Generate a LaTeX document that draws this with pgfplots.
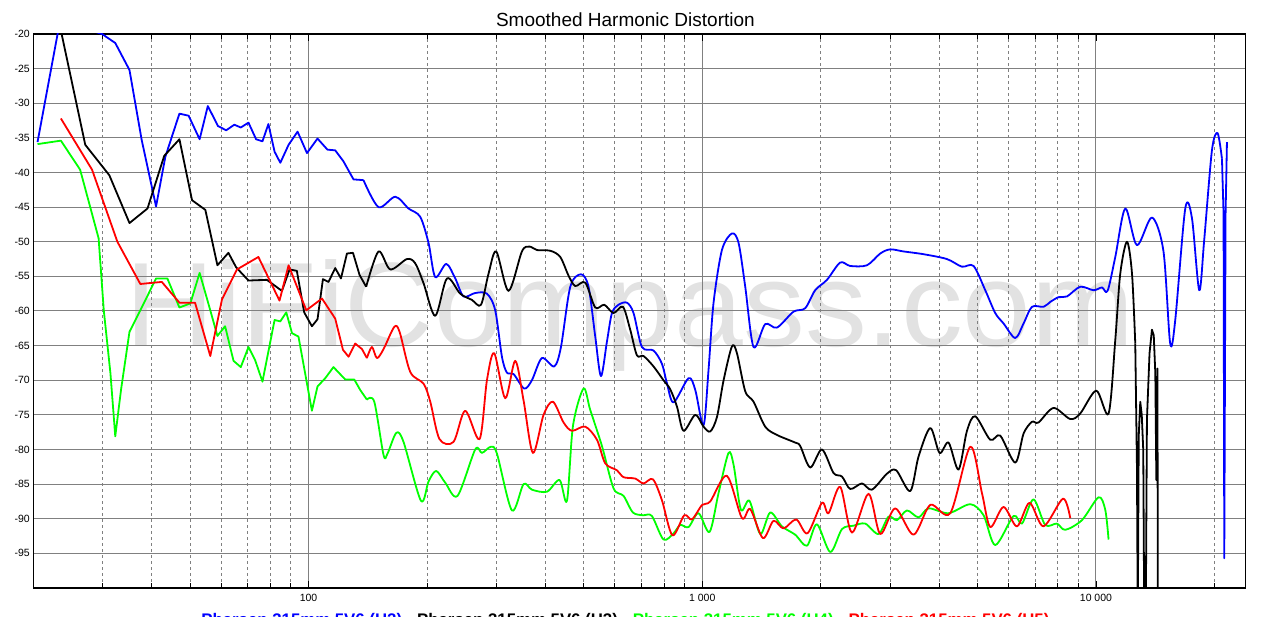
\documentclass[border=0pt]{standalone}
\usepackage{fontspec}
\setmainfont{Liberation Sans}
\usepackage{pgfplots}
\pgfplotsset{compat=1.18}
\definecolor{hblue}{RGB}{0,0,255}
\definecolor{hgreen}{RGB}{0,255,0}
\definecolor{hred}{RGB}{255,0,0}
\definecolor{wm}{RGB}{226,226,226}
\begin{document}
\begin{tikzpicture}[x=1pt,y=1pt]
\node[anchor=base west, text=wm, font=\fontsize{120}{120}\selectfont, inner sep=0pt, xscale=1.03] at (125,270) {HiFiCompass.com};
\begin{axis}[
  at={(33.3pt,29pt)}, anchor=south west,
  scale only axis, width=1212.4pt, height=554pt,
  xmode=log, xmin=20, xmax=24000, ymin=-100, ymax=-20,
  xtick={100,1000,10000}, xticklabels={100,1 000,10 000},
  minor xtick={30,40,50,60,70,80,90,200,300,400,500,600,700,800,900,2000,3000,4000,5000,6000,7000,8000,9000,20000},
  ytick={-20,-25,-30,-35,-40,-45,-50,-55,-60,-65,-70,-75,-80,-85,-90,-95,-100},
  yticklabels={-20,-25,-30,-35,-40,-45,-50,-55,-60,-65,-70,-75,-80,-85,-90,-95,},
  xmajorgrids, xminorgrids, ymajorgrids,
  major grid style={draw=gray, line width=1pt},
  minor grid style={draw=gray, line width=0.8pt, dash pattern=on 3pt off 3pt},
  tick align=inside, major tick length=7pt, minor tick length=5pt,
  xtick style={black, line width=0.8pt},
  ytick style={draw=none},
  axis line style={line width=1.4pt},
  ticklabel style={font=\fontsize{10.5}{12}\selectfont},
  xticklabel style={yshift=-3pt},
  title={Smoothed Harmonic Distortion},
  title style={at={(axis description cs:0.4884,1)}, anchor=base, yshift=1.3pt, font=\fontsize{19}{22}\selectfont},
  legend style={at={(axis description cs:0.4884,0)}, anchor=north, yshift=-25pt, draw=none, fill=none, inner sep=0pt, font=\fontsize{16.8}{19}\selectfont\bfseries, nodes={inner sep=0pt}, /tikz/every even column/.append style={column sep=15pt}},
  legend columns=4,
  legend image code/.code={},
  no markers,
  every axis plot/.append style={line width=1.8pt, line join=round},
  sm/.style={smooth, tension=0.5, forget plot},
]
% ---------- H2 (blue)
\addplot[hblue] coordinates {
(20.5,-35.6) (23.4,-18) (29.9,-20.0) (32.3,-21.3) (35.1,-25.2) (37.7,-35.3) (41.0,-44.9) (43.3,-37.7)
(47.0,-31.5) (49.6,-31.8) (52.9,-35.2) (55.5,-30.4) (58.9,-33.3) (61.8,-33.9) (64.8,-33.1) (67.3,-33.5)
(70.4,-32.8) (73.6,-35.2) (76.4,-35.5) (79.1,-33.0) (82.0,-37.0) (84.8,-38.6) (89.0,-36.0) (93.8,-34.1)
(99.1,-37.2) (105.4,-35.1) (111.7,-36.7) (116.9,-36.8) (122.7,-38.4) (130.1,-41.0) (137.9,-41.1)
};
\addlegendentry{\textcolor{hblue}{Pharsen 315mm 5V6 (H2)}}
\addplot[hblue, sm] coordinates {
(137.9,-41.1)
(150.6,-45.0) (166.1,-43.5) (179.5,-45.2) (192.2,-46.4) (201.8,-50.2) (209.8,-55.1) (223.8,-53.2)
(235.9,-55.3) (247.6,-57.9) (265.1,-57.4) (283.9,-57.5) (298.0,-59.9) (309.9,-66.6) (319.1,-68.9)
(331.7,-69.1) (353.1,-71.2) (369.3,-70.0) (391.5,-66.8) (420.9,-68.0) (437.7,-65.2) (462.2,-56.5)
(491.9,-54.7) (514.3,-56.5) (534.9,-63.7) (553.0,-69.4) (572.8,-64.4) (589.8,-60.3) (612.9,-59.1)
(643.8,-58.8) (669.2,-60.3) (702.9,-65.2) (752.0,-65.7) (789.8,-67.6) (813.3,-70.4) (845.5,-73.2)
(923.1,-69.7) (960.0,-71.4) (1007.6,-76.5) (1037.5,-68.5) (1068,-58.9) (1122,-51.2) (1190,-48.8)
(1237,-50.2) (1286,-56.5) (1350,-65.2) (1445,-61.9) (1548,-62.4) (1705,-60.1) (1826,-59.6) (1936,-57.0)
(2074,-55.5) (2241,-53.0) (2376,-53.5) (2620,-53.4) (2832,-51.7) (3002,-51.1) (3245,-51.4) (3649,-51.8)
(4183,-52.5) (4566,-53.6) (4888,-53.5) (5234,-57.0) (5549,-60.3) (5825,-61.8) (6237,-63.9) (6549,-61.8)
(6877,-59.4) (7359,-59.4) (7653,-58.7) (8035,-58.0) (8440,-57.9) (9122,-56.5) (9861,-57.0) (10357,-56.6)
(10702,-57.1) (11196,-52.2) (11870,-45.2) (12708,-50.5) (13874,-46.5) (14843,-51.4) (15437,-64.7)
(15901,-61.3) (16859,-45.2) (17532,-46.6) (18295,-57.0) (18838,-49.7) (19706,-36.8) (20364,-34.3)
(20893,-38.0)
};
\addplot[hblue, forget plot] coordinates {
(20893,-38.0) (21091,-46.0) (21178,-95.7) (21340,-46.0) (21513,-35.6)
};
% ---------- H3 (black)
\addplot[black] coordinates {
(22.8,-17) (23.6,-20) (27.1,-36.0) (31.2,-40.4) (35.1,-47.3) (39.0,-45.2) (43.0,-37.6) (47.0,-35.2)
(50.6,-44.0) (54.7,-45.4) (58.7,-53.4) (62.6,-51.6) (65.5,-53.7) (70.4,-55.6) (78.4,-55.5) (85.6,-57.1)
(89.5,-54.0) (93.4,-54.2) (97.5,-60.2) (102.0,-62.2) (105.4,-61.2) (108.8,-55.4) (112.4,-55.8)
(116.9,-53.8) (120.9,-55.3) (125.2,-51.7) (129.7,-51.6) (134.8,-54.8) (140.1,-56.5)
};
\addlegendentry{\textcolor{black}{Pharsen 315mm 5V6 (H3)}}
\addplot[black, sm] coordinates {
(140.1,-56.5) (150.6,-51.4)
(161.3,-54.0) (177.8,-52.5) (186.6,-53.1) (196.0,-56.0) (209.8,-60.7) (224.7,-55.3) (242.8,-57.5)
(260.0,-58.4) (274.2,-59.1) (286.6,-54.6) (299.8,-51.4) (322.1,-57.1) (348.4,-51.4) (364.2,-50.7)
(380.3,-51.2) (411.2,-51.3) (435.9,-52.2) (457.6,-54.9) (475.9,-56.4) (504.5,-55.9) (534.9,-59.5)
(563.8,-59.1) (595.3,-60.3) (628.9,-59.4) (656.3,-62.7) (682.5,-66.4) (709.3,-66.5) (752.0,-68.0)
(797.3,-70.0) (829.2,-71.3) (862.6,-73.8) (896.3,-77.3) (960.0,-75.0) (1007.6,-76.7) (1048,-77.4)
(1090,-75.3) (1133,-70.0) (1190,-65.1) (1225,-66.1) (1286,-71.6) (1350,-73.1) (1445,-76.7) (1548,-77.9)
(1722,-79.0) (1774,-79.5) (1881,-82.6) (2014,-80.0) (2155,-83.4) (2264,-83.9) (2376,-85.7) (2545,-84.9)
(2698,-85.8) (2945,-83.5) (3110,-83.0) (3375,-86.0) (3544,-81.0) (3795,-76.9) (4007,-80.5) (4223,-79.0)
(4477,-82.9) (4703,-77.3) (4937,-75.2) (5389,-78.6) (5714,-78.0) (6237,-81.9) (6549,-77.7) (6877,-76.0)
(7146,-76.1) (7803,-74.0) (8603,-75.6) (9122,-74.8) (10018,-71.5) (10765,-74.8) (11196,-64.2)
(11527,-54.6) (11989,-50.0) (12346,-54.6) (12584,-64.7)
};
\addplot[black, forget plot] coordinates {
(12584,-64.7) (12708,-82.5) (12769,-105) (12843,-78)
(12957,-73.1) (13071,-75) (13186,-80.1) (13263,-105) (13380,-105) (13473,-75.7) (13679,-66.1)
(13874,-62.7) (14021,-63.5) (14150,-69.0) (14234,-84.4) (14330,-68.3) (14360,-105)
};
% ---------- H4 (green)
\addplot[hgreen] coordinates {
(20.5,-35.9) (23.5,-35.4) (26.3,-39.6) (29.3,-49.5) (30.2,-59.9) (31.4,-69.0) (32.3,-78.1) (33.4,-71.4)
(35.1,-63.0) (37.4,-59.9) (41.0,-55.3) (43.8,-55.3) (47.0,-59.5) (50.1,-58.9) (52.9,-54.5) (56.3,-59.9)
(58.7,-63.6) (61.4,-62.2) (64.5,-67.2) (67.3,-68.1) (70.4,-65.2) (73.2,-67.1) (76.4,-70.2) (82.0,-61.3)
(84.8,-61.5) (87.8,-60.2) (90.8,-63.2) (94.3,-63.7) (102.0,-74.4) (105.4,-70.9) (110.3,-69.7)
(115.7,-68.1) (124.0,-69.9) (130.7,-69.9) (135.3,-71.4) (140.7,-72.8)
};
\addlegendentry{\textcolor{hgreen}{Pharsen 315mm 5V6 (H4)}}
\addplot[hgreen, sm] coordinates {
(140.7,-72.8) (146.9,-73.1) (155.1,-80.8)
(158.7,-80.6) (167.1,-77.6) (174.3,-78.9) (193.0,-87.4) (201.8,-84.6) (211.0,-83.1) (222.5,-84.8)
(239.0,-86.7) (265.1,-80.0) (275.7,-80.5) (290.6,-79.6) (301.0,-80.6) (328.6,-88.8) (351.7,-85.0)
(369.3,-85.8) (403.2,-86.1) (434.1,-84.4) (453.3,-87.4) (469.5,-76.6) (499.5,-71.2) (519.5,-74.3)
(556.3,-79.5) (595.3,-85.6) (631.1,-86.7) (666.8,-89.1) (709.3,-89.5) (745.0,-89.6) (797.3,-93.0)
(845.6,-92.1) (879.5,-90.9) (923.1,-91.2) (978.6,-89.2) (1043.6,-91.9) (1100,-86.3) (1166,-80.5)
(1201,-82.2) (1254,-88.7) (1318,-87.4) (1404,-92.2) (1488,-89.1) (1594,-91.1) (1722,-92.3) (1845,-93.9)
(1956,-90.8) (2114,-94.8) (2264,-91.5) (2423,-91.0) (2594,-90.7) (2804,-92.2) (2972,-89.7) (3123,-90.2)
(3311,-88.8) (3544,-89.8) (3757,-88.5) (4223,-89.2) (4795,-87.9) (5183,-89.5) (5549,-93.8) (6176,-89.6)
(6487,-90.7) (6941,-87.2) (7433,-90.9) (7960,-90.7) (8357,-91.6) (9214,-90.2) (10153,-86.9)
(10558,-88.7) (10765,-93.0)
};
% ---------- H5 (red)
\addplot[hred] coordinates {
(23.5,-32.2) (28.2,-39.6) (32.7,-50.0) (37.4,-56.1) (42.4,-55.8) (47.0,-58.8) (51.5,-58.8) (56.3,-66.5)
(60.3,-58.3) (65.8,-54.0) (74.6,-52.2) (84.4,-58.5) (89.0,-53.4) (98.7,-59.9) (108.2,-58.2)
(116.9,-61.1) (122.3,-65.6) (126.4,-66.6) (131.4,-64.7) (136.7,-65.5) (140.7,-66.8)
};
\addlegendentry{\textcolor{hred}{Pharsen 315mm 5V6 (H5)}}
\addplot[hred, sm] coordinates {
(140.7,-66.8) (144.9,-65.2)
(149.2,-66.8) (155.1,-65.5) (165.1,-62.3) (170.3,-63.0) (181.3,-68.8) (196.0,-70.5) (203.8,-73.1)
(215.1,-78.5) (233.5,-78.9) (250.0,-74.4) (271.9,-78.5) (283.9,-70.0) (296.3,-66.1) (316.0,-72.6)
(335.0,-67.2) (351.7,-72.9) (371.5,-80.5) (395.4,-75.0) (417.6,-73.1) (444.4,-76.1) (466.7,-77.3)
(504.5,-76.7) (540.3,-78.6) (567.1,-82.0) (607.3,-83.0) (631.1,-84.0) (675.7,-84.2) (709.3,-84.9)
(749.4,-84.3) (789.8,-87.3) (840,-92.4) (900.0,-89.5) (941.5,-90.1) (999.3,-88.0) (1048,-87.5)
(1155,-83.8) (1261,-89.9) (1324,-88.6) (1426,-92.8) (1517,-90.3) (1609,-91.4) (1733,-90.1) (1851,-92.1)
(2014,-87.7) (2093,-89.2) (2241,-85.4) (2400,-92.0) (2645,-86.4) (2832,-92.2) (3092,-88.5) (3441,-92.3)
(3795,-88.0) (4265,-89.2) (4795,-79.6) (5134,-86.3) (5389,-91.2) (5825,-88.3) (6301,-91.1) (6782,-87.7)
(7359,-91.1) (8245,-87.1) (8603,-89.9)
};
\end{axis}
\pgfresetboundingbox
\useasboundingbox (0,0) rectangle (1276,617);
\end{tikzpicture}
\end{document}
